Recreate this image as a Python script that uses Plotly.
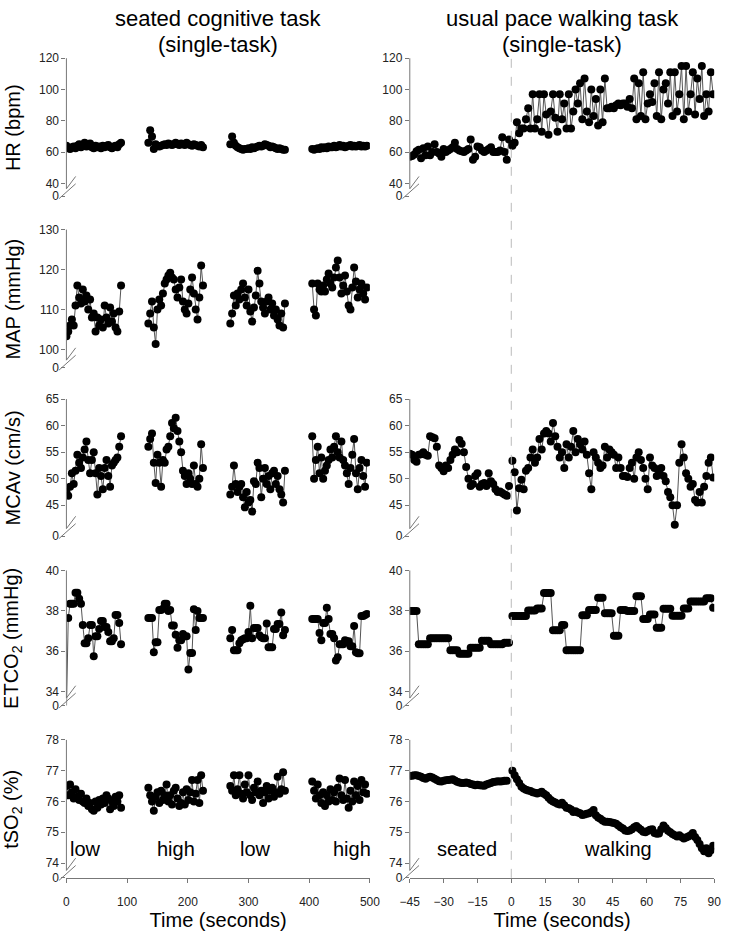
import numpy as np
import plotly.graph_objects as go

W, H = 733, 940

# ------------------------------------------------------------------ data
block_starts = [0, 135, 270, 405]      # start (s) of the four cognitive blocks
block_step = 3                          # s between plotted samples in a block
seated_start = -45                      # first seated sample (s)
walk_start = 0.5                        # first walking sample (s)

hr_cog = [
    [64, 62.5, 62, 63, 63.5, 62.5, 64, 65, 63, 64, 66, 63.5, 64, 65.5, 63, 62.5,
     64, 63, 63.5, 62.5, 64, 63, 64, 64.5, 63, 62.5, 63.5, 64, 63, 65, 66],
    [66, 74, 70, 62, 65, 64, 63.5, 64, 64.5, 65, 64.5, 65.5, 65, 64.5, 65, 66,
     65, 64.5, 65.5, 65, 64.5, 66, 65, 64.5, 64, 65, 64.5, 64, 63.5, 64.5, 63],
    [65, 70, 66, 64, 63, 62.5, 62, 61.5, 62, 62, 62.5, 62, 63, 62.5, 63, 63.5,
     64, 63.5, 64, 65, 64.5, 64, 63, 63.5, 63, 62.5, 62, 62.5, 62, 61.5, 61.5],
    [62, 61.5, 62, 62.5, 62, 63, 62.5, 63, 62.5, 63.5, 63, 63, 64, 63, 63.5, 64.5,
     63.5, 64, 63, 63.5, 64, 64.5, 63.5, 64, 63.5, 64, 64.5, 63.5, 64, 63.5, 64],
]
map_cog = [
    [103.3, 104.5, 106, 107.5, 106, 111, 116, 113, 111.5, 115, 112, 113.5, 110, 112.5,
     108, 109, 104.5, 108, 106, 107.5, 105.5, 111, 108, 106.5, 110.5, 107, 109, 105.5,
     104.5, 109.5, 116],
    [106.5, 109, 112, 105.5, 101.4, 110, 112.5, 111, 114, 116.5, 117.5, 118.5, 119.2,
     118, 117.5, 115, 113, 115.5, 117.5, 112, 110, 109, 111.5, 115, 118, 114, 110,
     107.5, 113, 121, 116],
    [106.5, 109, 113.5, 111, 114, 112.5, 115, 116.5, 113, 111, 115, 109.5, 107, 110.5,
     113.5, 119.7, 116.5, 112, 110.5, 109, 112, 113, 110, 111.5, 108.5, 110, 107.5,
     106, 109, 105.5, 111.5],
    [116.5, 110, 108.5, 116.5, 115, 114.5, 116, 114.5, 117.5, 119, 116.5, 115.5, 118,
     120.5, 122.3, 118, 114, 116, 118.5, 114.5, 111, 110, 115.5, 120.5, 117, 113, 115,
     116.5, 114, 112.5, 115.5],
]
mcav_cog = [
    [47.5, 46.8, 48.5, 51, 49, 51.5, 54.5, 53, 52, 54, 55.5, 57, 53.5, 51, 53.5, 55,
     51, 47, 52, 50.5, 48, 52, 53.5, 50.5, 48.5, 52.5, 53, 53.5, 54, 56, 58],
    [56, 57.5, 58.5, 53, 49.2, 54.5, 53, 48.5, 53.5, 53, 55.5, 56, 58, 60.5, 59.5,
     61.5, 59, 57, 55, 51.5, 50.5, 49, 51, 50, 49, 52.5, 49, 48.5, 50, 56.5, 52],
    [47, 48.5, 52.5, 49, 47.5, 48.5, 49, 46.5, 44.6, 47.5, 45.5, 46, 43.8, 49.5, 49,
     53, 52, 46.5, 50, 52, 49, 50.5, 48, 51, 51.5, 49, 50.5, 48, 47, 45.5, 51.5],
    [58, 50, 53.5, 56, 51, 54, 50, 51.5, 52.5, 53.5, 55.5, 54, 56, 58, 55, 54, 57,
     53.5, 52.5, 51, 49, 52, 54.5, 57.5, 51, 48, 52, 53.5, 50.5, 48.5, 53],
]
etco2_cog = [
    [33.0, 37.65, 38.35, 38.35, 38.35, 38.9, 38.9, 38.6, 38.35, 37.3, 36.4, 36.4,
     36.65, 37.3, 37.3, 35.75, 36.75, 36.75, 37.1, 37.5, 37.5, 37.2, 37.2, 36.95,
     36.5, 36.5, 36.65, 37.8, 37.8, 37.4, 36.35],
    [37.65, 37.65, 37.65, 35.95, 36.45, 36.45, 38.05, 38.05, 38.1, 38.35, 38.35, 38.0,
     38.05, 37.28, 37.28, 36.82, 36.18, 36.55, 36.55, 36.85, 36.75, 36.75, 35.1,
     35.92, 35.92, 38.08, 37.05, 38.0, 37.65, 37.65, 37.65],
    [36.65, 37.05, 36.05, 36.05, 36.05, 36.4, 36.55, 36.6, 36.65, 36.65, 36.95, 38.25,
     36.65, 37.15, 37.15, 37.15, 36.8, 36.7, 36.65, 36.65, 37.38, 36.2, 36.2, 36.2,
     37.1, 37.1, 37.35, 37.35, 37.92, 36.8, 37.05],
    [37.6, 37.6, 37.6, 37.6, 36.9, 36.55, 37.4, 37.4, 38.15, 37.6, 36.85, 36.85,
     36.65, 35.55, 35.7, 36.35, 36.35, 36.35, 36.55, 36.5, 36.5, 36.25, 36.25, 37.25,
     35.95, 35.9, 35.9, 37.75, 37.75, 37.8, 37.85],
]
tso2_cog = [
    [76.5, 76.2, 76.55, 76.3, 76.1, 76.4, 76.15, 76.05, 76.25, 76.0, 75.95, 76.1,
     75.85, 75.95, 75.75, 75.7, 76.0, 75.8, 76.05, 75.9, 76.1, 75.95, 76.2, 76.1,
     75.75, 76.0, 75.85, 76.15, 76.0, 76.2, 75.8],
    [76.45, 76.2, 76.0, 75.7, 76.15, 76.3, 75.95, 76.35, 76.05, 76.2, 76.55, 76.0,
     76.2, 75.9, 76.35, 76.45, 76.1, 75.85, 75.95, 76.3, 75.9, 76.4, 76.05, 76.3,
     76.7, 76.0, 76.25, 76.7, 75.95, 76.85, 76.35],
    [76.5, 76.35, 76.85, 76.2, 76.4, 76.85, 76.25, 76.1, 76.55, 76.3, 76.85, 76.2,
     76.05, 76.45, 76.3, 76.65, 76.2, 76.35, 75.95, 76.3, 76.5, 76.1, 76.35, 76.45,
     76.15, 76.3, 76.8, 76.25, 76.4, 76.95, 76.35],
    [76.65, 76.35, 76.1, 76.55, 76.2, 75.95, 76.3, 75.85, 76.2, 76.0, 76.4, 76.05,
     76.3, 76.0, 76.45, 76.75, 76.2, 76.05, 76.7, 76.1, 75.8, 76.35, 76.0, 76.65,
     76.2, 76.5, 76.05, 76.7, 76.3, 76.55, 76.25],
]

hr_seated = [57, 57.5, 58.5, 60.5, 61.5, 56, 62.5, 58, 63.5, 58, 60, 65, 60, 59, 57,
             62, 60, 61, 62, 63, 66, 62, 61, 60.5, 60, 61, 62, 68, 55, 57, 63.5, 63,
             61, 60, 61, 62, 63, 60, 60, 60, 61, 69.5, 60, 55, 68]
hr_walk = [64, 66, 79, 72, 75, 75, 81, 88, 75, 97, 75, 81, 97, 73, 97, 84, 71, 86,
           97, 82, 73, 97, 81, 91, 75, 97, 75, 86, 100, 91, 104, 81, 107, 86, 79, 100,
           83, 94, 77, 100, 79, 107, 88, 88, 89, 88, 90, 91, 90, 91, 91, 89, 94, 88,
           107, 81, 104, 83, 111, 81, 91, 97, 92, 104, 83, 111, 81, 100, 104, 91, 111,
           83, 111, 86, 97, 115, 81, 115, 86, 97, 111, 84, 107, 94, 115, 83, 97, 86,
           111, 97]
mcav_seated = [54.7, 54.5, 53.5, 53.2, 54.5, 54.6, 55.0, 54.5, 54.3, 58.0, 57.8, 57.6,
               56.0, 52.5, 52.0, 51.4, 52.5, 52.0, 53.5, 54.5, 55.5, 55.0, 57.3, 56.6,
               55.0, 52.2, 50.0, 48.6, 49.0, 50.5, 51.0, 48.5, 49.0, 49.2, 48.6, 51.0,
               49.5, 49.0, 48.0, 47.5, 47.6, 47.3, 47.0, 46.8, 48.6]
mcav_walk = [53.4, 51.2, 44.0, 48.2, 49.8, 48.0, 51.5, 52.0, 54.0, 55.5, 53.0, 54.0,
             57.5, 55.5, 58.5, 59.0, 58.5, 57.0, 60.5, 58.0, 56.0, 54.0, 55.0, 52.0,
             56.5, 54.0, 56.0, 59.0, 55.0, 57.5, 56.5, 55.5, 57.0, 54.5, 51.0, 48.0,
             55.0, 54.0, 53.0, 52.0, 52.5, 56.0, 54.0, 55.5, 55.0, 54.5, 52.0, 54.0,
             52.0, 50.5, 50.5, 50.3, 52.0, 53.0, 50.0, 54.0, 55.0, 53.5, 52.0, 50.0,
             48.0, 54.0, 52.5, 52.0, 50.5, 51.5, 52.0, 50.5, 49.5, 47.5, 46.5, 45.0,
             41.3, 45.0, 53.0, 56.5, 54.0, 51.0, 50.0, 48.5, 49.0, 46.0, 45.5, 47.5,
             45.5, 48.5, 50.5, 53.0, 54.0, 50.2]
etco2_seated = [38.0, 38.0, 38.0, 38.0,
                36.35, 36.35, 36.35, 36.35, 36.35,
                36.65, 36.65, 36.65, 36.65, 36.65, 36.65, 36.65, 36.65, 36.65,
                36.05, 36.05, 36.05, 36.05,
                35.88, 35.88, 35.88, 35.88, 35.88,
                36.18, 36.18, 36.18, 36.18, 36.18,
                36.52, 36.52, 36.52, 36.52,
                36.35, 36.35, 36.35, 36.35, 36.35, 36.35,
                36.42, 36.42, 36.42]
etco2_walk = [37.75, 37.75, 37.75, 37.75, 37.75, 37.75, 37.75,
              38.02, 38.02, 38.02, 38.02,
              38.12, 38.12, 38.12,
              38.88, 38.88, 38.88, 38.88,
              37.04, 37.04, 37.04, 37.04,
              37.3, 37.3,
              36.05, 36.05, 36.05, 36.05, 36.05, 36.05, 36.05,
              37.78, 37.78, 37.78,
              38.04, 38.04, 38.04, 38.04,
              38.65, 38.65, 38.65,
              37.88, 37.88, 37.88, 37.88,
              36.77, 36.77, 36.77,
              38.05, 38.05, 38.05,
              38.0, 38.0, 38.0, 38.0,
              38.73, 38.73, 38.73,
              37.6, 37.6, 37.6,
              37.82, 37.82, 37.82,
              37.16, 37.16, 37.16,
              38.1, 38.1, 38.1, 38.1,
              37.76, 37.76, 37.76, 37.76, 37.76,
              38.12, 38.12, 38.12,
              38.47, 38.47, 38.47, 38.47, 38.47, 38.47, 38.47,
              38.62, 38.62, 38.62,
              38.15]
tso2_seated = [76.83, 76.84, 76.85, 76.85, 76.83, 76.8, 76.76, 76.74, 76.78, 76.8,
               76.78, 76.74, 76.7, 76.66, 76.65, 76.67, 76.69, 76.7, 76.71, 76.72,
               76.68, 76.64, 76.62, 76.6, 76.6, 76.62, 76.6, 76.57, 76.55, 76.53,
               76.54, 76.53, 76.52, 76.51, 76.55, 76.58, 76.6, 76.63, 76.64, 76.66,
               76.65, 76.66, 76.67, 76.67]
tso2_walk = [77.0, 76.85, 76.72, 76.6, 76.48, 76.42, 76.38, 76.36, 76.34, 76.3,
             76.28, 76.26, 76.28, 76.32, 76.25, 76.2, 76.12, 76.05, 76.0, 75.97,
             75.93, 75.9, 75.96, 75.88, 75.8, 75.78, 75.74, 75.66, 75.68, 75.64,
             75.62, 75.56, 75.58, 75.6, 75.62, 75.66, 75.72, 75.55, 75.48, 75.44,
             75.38, 75.34, 75.34, 75.33, 75.32, 75.3, 75.28, 75.22, 75.16, 75.12,
             75.06, 75.04, 75.06, 75.1, 75.16, 75.2, 75.14, 75.08, 75.02, 75.0,
             75.04, 75.08, 75.1, 74.98, 74.95, 74.96, 75.1, 75.22, 75.14, 75.05,
             75.0, 74.94, 74.9, 74.86, 74.9, 74.85, 74.8, 74.83, 74.86, 74.9,
             74.98, 74.85, 74.75, 74.62, 74.48, 74.38, 74.48, 74.32, 74.42, 74.56]

row_titles = ["HR (bpm)", "MAP (mmHg)", "MCAv (cm/s)",
              "ETCO<sub>2</sub> (mmHg)", "tSO<sub>2</sub> (%)"]
row_ranges = [[31.8, 120], [95.5, 130], [39.2, 65], [33.32, 40], [73.52, 78]]
row_ticks = [[40, 60, 80, 100, 120], [100, 110, 120, 130], [45, 50, 55, 60, 65],
             [34, 36, 38, 40], [74, 75, 76, 77, 78]]
left_xticks = [0, 100, 200, 300, 400, 500]
right_xticks = [-45, -30, -15, 0, 15, 30, 45, 60, 75, 90]
col_titles = [["seated cognitive task", "(single-task)"],
              ["usual pace walking task", "(single-task)"]]
phase_labels_left = ["low", "high", "low", "high"]
phase_x_left = [31, 180, 312, 471]
phase_labels_right = ["seated", "walking"]
phase_x_right = [-19.8, 47.4]
phase_label_y = 74.45

cog_data = [hr_cog, map_cog, mcav_cog, etco2_cog, tso2_cog]
walk_data = [(hr_seated, hr_walk), None, (mcav_seated, mcav_walk),
             (etco2_seated, etco2_walk), (tso2_seated, tso2_walk)]

# ------------------------------------------------------------------ layout geometry (px)
row_px = [(52, 192), (226, 366), (398, 537), (572, 709), (744, 884)]
col_px = [(58, 370), (411, 724)]
FONT = "Arial, Liberation Sans, sans-serif"
AX = "#777777"

fig = go.Figure()
layout = dict(width=W, height=H, margin=dict(l=0, r=0, t=0, b=0),
              paper_bgcolor="white", plot_bgcolor="white", showlegend=False,
              font=dict(family=FONT, color="#222"))
shapes, annotations = [], []

marker = dict(size=8, color="black")
line = dict(color="#555555", width=1)

def names(k):
    return ("x" if k == 1 else f"x{k}"), ("y" if k == 1 else f"y{k}")

for r in range(5):
    for c in range(2):
        k = r * 2 + c + 1
        xn, yn = names(k)
        xkey = "xaxis" if k == 1 else f"xaxis{k}"
        ykey = "yaxis" if k == 1 else f"yaxis{k}"
        x0p, x1p = col_px[c]
        y0p, y1p = row_px[r]
        wpx, hpx = x1p - x0p, y1p - y0p
        bottom = (r == 4)
        xa = dict(
            domain=[x0p / W, x1p / W], anchor=yn,
            range=[0, 500] if c == 0 else [-45, 90],
            tickvals=left_xticks if c == 0 else right_xticks,
            showgrid=False, zeroline=False,
            showline=bottom, linecolor=AX, linewidth=1,
            ticks="outside" if bottom else "", ticklen=4, tickcolor=AX,
            showticklabels=bottom, tickfont=dict(size=12, color="#222"),
            fixedrange=True)
        if bottom:
            xa["ticklabelstandoff"] = 9
            xa["title"] = dict(text="Time (seconds)",
                               font=dict(size=20, color="black"), standoff=0)
        layout[xkey] = xa
        lo, hi = row_ranges[r]
        layout[ykey] = dict(
            domain=[1 - y1p / H, 1 - y0p / H], anchor=xn,
            range=[lo, hi],
            tickvals=[lo] + row_ticks[r],
            ticktext=["0"] + [str(t) for t in row_ticks[r]],
            showgrid=False, zeroline=False, showline=False,
            ticks="outside", ticklen=4, tickcolor=AX,
            tickfont=dict(size=12, color="#222"), fixedrange=True)
        # axis line (stops at the break)
        shapes.append(dict(type="line", xref=f"{xn} domain", yref=f"{yn} domain",
                           x0=0, x1=0, y0=7.5 / hpx, y1=1,
                           line=dict(color=AX, width=1)))
        # break marks
        for (ax0, ay0, ax1, ay1) in [(0, 7.5, 9.5, 20), (-7.5, -2.5, 9.5, 12.5)]:
            shapes.append(dict(type="line", xref=f"{xn} domain", yref=f"{yn} domain",
                               x0=ax0 / wpx, y0=ay0 / hpx, x1=ax1 / wpx, y1=ay1 / hpx,
                               line=dict(color=AX, width=1)))

        # data
        if c == 0:
            for b, start in enumerate(block_starts):
                vals = cog_data[r][b]
                xs = start + block_step * np.arange(len(vals))
                fig.add_trace(go.Scatter(x=xs, y=vals, xaxis=xn, yaxis=yn,
                                         mode="lines+markers", marker=marker,
                                         line=line, hoverinfo="skip"))
        else:
            if walk_data[r] is not None:
                seated, walk = walk_data[r]
                xs = seated_start + np.arange(len(seated))
                fig.add_trace(go.Scatter(x=xs, y=seated, xaxis=xn, yaxis=yn,
                                         mode="lines+markers", marker=marker,
                                         line=line, hoverinfo="skip"))
                xw = walk_start + np.arange(len(walk))
                fig.add_trace(go.Scatter(x=xw, y=walk, xaxis=xn, yaxis=yn,
                                         mode="lines+markers", marker=marker,
                                         line=line, hoverinfo="skip"))
    # row title
    y0p, y1p = row_px[r]
    annotations.append(dict(text=row_titles[r], xref="paper", yref="paper",
                            x=3 / W, y=1 - (y0p + y1p) / 2 / H, textangle=-90,
                            showarrow=False, xanchor="center", yanchor="middle",
                            font=dict(size=20, color="black")))

# dashed line at time 0 across the whole walking column
shapes.append(dict(type="line", xref="x2", yref="paper", x0=0, x1=0,
                   y0=1 - 884 / H, y1=1 - 45 / H,
                   line=dict(color="#bbbbbb", width=1, dash="dash")))

# column titles
for c in range(2):
    cx = (col_px[c][0] + col_px[c][1]) / 2 / W
    for i, txt in enumerate(col_titles[c]):
        annotations.append(dict(text=txt, xref="paper", yref="paper", x=cx,
                                y=1 - (12 + 26 * i) / H, showarrow=False,
                                xanchor="center", yanchor="middle",
                                font=dict(size=22, color="black")))

# phase labels
for txt, xv in zip(phase_labels_left, phase_x_left):
    annotations.append(dict(text=txt, xref="x9", yref="y9", x=xv, y=phase_label_y,
                            showarrow=False, xanchor="center", yanchor="middle",
                            font=dict(size=20, color="black")))
for txt, xv in zip(phase_labels_right, phase_x_right):
    annotations.append(dict(text=txt, xref="x10", yref="y10", x=xv, y=phase_label_y,
                            showarrow=False, xanchor="center", yanchor="middle",
                            font=dict(size=20, color="black")))

layout["shapes"] = shapes
layout["annotations"] = annotations
fig.update_layout(**layout)
fig.write_html("out.html")
